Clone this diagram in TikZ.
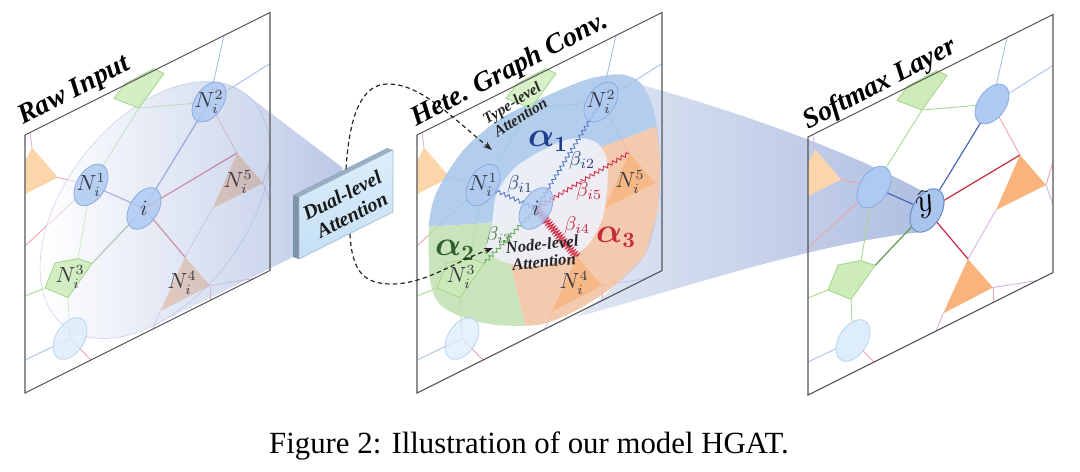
\documentclass[tikz,border=0pt]{standalone}
\usepackage{fontspec}
\setmainfont{Liberation Serif}
\usetikzlibrary{decorations.pathmorphing,arrows.meta}
\definecolor{frameC}{HTML}{555555}
\definecolor{eBlC}{HTML}{A9BFE9}
\definecolor{eGrC}{HTML}{A6D98E}
\definecolor{ePkC}{HTML}{F0A3AB}
\definecolor{ePuC}{HTML}{D4B6E6}
\definecolor{eBdC}{HTML}{4A66B8}
\definecolor{eRdC}{HTML}{C8283C}
\definecolor{eGdC}{HTML}{5C9A4A}
\definecolor{nBlC}{HTML}{AFCAF1}
\definecolor{nBlD}{HTML}{8AAAE4}
\definecolor{nLBC}{HTML}{DEEDFB}
\definecolor{nLBD}{HTML}{B7D3F2}
\definecolor{triC}{HTML}{F8B47C}
\definecolor{triLC}{HTML}{FCD5AB}
\definecolor{pentC}{HTML}{CDECB9}
\definecolor{pentD}{HTML}{A3D58A}
\definecolor{secB}{HTML}{A6C6EA}
\definecolor{secO}{HTML}{F2C1A1}
\definecolor{secG}{HTML}{C0DFB0}
\definecolor{innerC}{HTML}{EFF1F9}
\definecolor{coneA}{HTML}{8FA5D6}
\definecolor{coneL}{HTML}{D3DDF0}
\definecolor{coneR}{HTML}{7F97CE}
\definecolor{boxF1}{HTML}{DCEEFB}
\definecolor{boxF2}{HTML}{C4DFF4}
\definecolor{boxTop}{HTML}{98AEC4}
\definecolor{boxSide}{HTML}{7E93A8}
\definecolor{lblC}{HTML}{3A3A48}
\definecolor{aBlue}{HTML}{1F3D8C}
\definecolor{aGreen}{HTML}{2F5F2A}
\definecolor{aRed}{HTML}{C62A3A}
\definecolor{bBlue}{HTML}{2C3C7C}
\definecolor{bRed}{HTML}{C0283A}
\definecolor{bGreen}{HTML}{3C7A38}
\definecolor{sBlue}{HTML}{5A78C8}
\definecolor{sRed}{HTML}{D03048}
\definecolor{sGreen}{HTML}{6AAA58}
\definecolor{yFill}{HTML}{A9C5EE}
\definecolor{yDraw}{HTML}{6F8FCB}

\tikzset{
  eBl/.style={draw=eBlC, line width=0.45pt},
  eGr/.style={draw=eGrC, line width=0.45pt},
  ePk/.style={draw=ePkC, line width=0.45pt},
  ePu/.style={draw=ePuC, line width=0.45pt},
  eBd/.style={draw=eBdC, line width=0.6pt},
  eRd/.style={draw=eRdC, line width=0.6pt},
  eGd/.style={draw=eGdC, line width=0.6pt},
  snk/.style={decorate, decoration={snake, amplitude=0.9pt, segment length=2.6pt}, line width=0.45pt},
  coil/.style={decorate, decoration={snake, amplitude=1.8pt, segment length=1.4pt}, line width=0.45pt},
  frame/.style={draw=frameC, line width=0.55pt},
  ttl/.style={font=\fontsize{13.9}{15}\selectfont\bfseries\itshape, rotate=27.5, anchor=base west, inner sep=0pt},
  nlbl/.style={font=\fontsize{10.5}{10.5}\selectfont, text=lblC, inner sep=0pt},
  blbl/.style={font=\fontsize{9.8}{9.8}\selectfont, inner sep=0pt},
  albl/.style={font=\fontsize{16}{16}\selectfont\boldmath, inner sep=0pt},
  dsh/.style={draw=black!85, line width=0.6pt, dash pattern=on 2.2pt off 1.6pt, -{Stealth[length=4.5pt,width=3.2pt]}},
  ellnode/.style={line width=0.4pt}
}

\newcommand{\gpts}[1]{%
  \coordinate (#1-N1) at (66,83);
  \coordinate (#1-N2) at (184,59);
  \coordinate (#1-i) at (119,133);
  \coordinate (#1-LB) at (45,226);
  \coordinate (#1-Pa) at (89,8);
  \coordinate (#1-Pb) at (114,30);
  \coordinate (#1-Pc) at (139,8);
  \coordinate (#1-Pd) at (129,-2);
  \coordinate (#1-Pe) at (100,-1);
  \coordinate (#1-Qa) at (20,163);
  \coordinate (#1-Qb) at (43,184);
  \coordinate (#1-Qc) at (67,162);
  \coordinate (#1-Qd) at (53,150);
  \coordinate (#1-Qe) at (30,143);
  \coordinate (#1-Fa) at (212,124);
  \coordinate (#1-Fb) at (188,167);
  \coordinate (#1-Fc) at (238,167);
  \coordinate (#1-Ga) at (160,202);
  \coordinate (#1-Gb) at (135,244);
  \coordinate (#1-Gc) at (185,243);
  \coordinate (#1-La) at (7,16);
  \coordinate (#1-Lb) at (-22,59);
  \coordinate (#1-Lc) at (33,59);
  \coordinate (#1-b1) at (199,0);
  \coordinate (#1-b2) at (245,51);
  \coordinate (#1-b3) at (0,111);
  \coordinate (#1-b4) at (5,0);
  \coordinate (#1-b5) at (0,161);
  \coordinate (#1-b6) at (0,225);
  \coordinate (#1-b7) at (66,258);
  \coordinate (#1-b8) at (245,147);
  \coordinate (#1-b9) at (245,190);
  \coordinate (#1-b10) at (229,258);
  \coordinate (#1-b11) at (185,258);
  \coordinate (#1-b12) at (128,258);
}
\newcommand{\gedges}[1]{%
  \fill[triLC] (#1-La) -- (#1-Lb) -- (#1-Lc) -- cycle;
  \draw[eBl] (#1-b1) -- (#1-N2) -- (#1-b2);
  \draw[eBl] (#1-LB) -- (#1-b6);
  \draw[eGr] (#1-N2) -- (#1-Pb) -- (#1-N1) -- (#1-Qd);
  \draw[eGr] (#1-Qa) -- (#1-b5);
  \draw[eGr] (#1-Qb) -- (#1-LB);
  \draw[ePk] (#1-N2) -- (#1-Fa);
  \draw[ePk] (#1-Lc) -- (#1-N1) -- (#1-b3);
  \draw[ePk] (#1-LB) -- (#1-b7);
  \draw[ePk] (#1-Fc) -- (#1-b8);
  \draw[ePk] (#1-Gc) -- (#1-b11);
  \draw[ePu] (#1-La) -- (#1-b4);
  \draw[ePu] (#1-Fb) -- (#1-Ga);
  \draw[ePu] (#1-Fc) -- (#1-b9);
  \draw[ePu] (#1-Gc) -- (#1-b10);
  \draw[ePu] (#1-Gb) -- (#1-b12);
}
\newcommand{\giedges}[1]{%
  \draw[eBd] (#1-i) -- (#1-N1);
  \draw[eBd] (#1-i) -- (#1-N2);
  \draw[eRd] (#1-i) -- (#1-Fa);
  \draw[eRd] (#1-i) -- (#1-Ga);
  \draw[eGd] (#1-i) -- (#1-Qc);
}
\newcommand{\gells}[2]{%
  \begin{scope}[#2]
  \filldraw[ellnode, fill=nBlC, draw=nBlD] (#1-N1) ellipse [x radius=17, y radius=19];
  \filldraw[ellnode, fill=nBlC, draw=nBlD] (#1-N2) ellipse [x radius=17, y radius=18];
  \filldraw[ellnode, fill=nBlC, draw=nBlD] (#1-i) ellipse [x radius=17, y radius=19];
  \filldraw[ellnode, fill=nLBC, draw=nLBD] (#1-LB) ellipse [x radius=17, y radius=19];
  \filldraw[ellnode, fill=pentC, draw=pentD] (#1-Pa) -- (#1-Pb) -- (#1-Pc) -- (#1-Pd) -- (#1-Pe) -- cycle;
  \filldraw[ellnode, fill=pentC, draw=pentD] (#1-Qa) -- (#1-Qb) -- (#1-Qc) -- (#1-Qd) -- (#1-Qe) -- cycle;
  \end{scope}}
\newcommand{\gtris}[2]{%
  \begin{scope}[#2]
  \fill[triC] (#1-Fa) -- (#1-Fb) -- (#1-Fc) -- cycle;
  \fill[triC] (#1-Ga) -- (#1-Gb) -- (#1-Gc) -- cycle;
  \end{scope}}

\begin{document}
\begin{tikzpicture}[x=0.5pt, y=-0.5pt]
\useasboundingbox (0,0) rectangle (1080,471);

% ================= Panel 1: Raw Input =================
\begin{scope}[shift={(25,135)}, yslant=0.5]
  \gpts{a}
  \begin{scope}
    \clip (0,0) rectangle (245,258);
    \gedges{a}
    \giedges{a}
  \end{scope}
  \gtris{a}{}
  \shade[left color=white, right color=coneA, fill opacity=0.6]
    plot[domain=90:322, samples=60] ({130+115*cos(\x)},{140+115*sin(\x)})
    -- (318,192) -- (268,256) -- cycle;
  \draw[draw=coneA, line width=0.3pt, opacity=0.45]
    plot[domain=0:360, samples=90] ({130+115*cos(\x)},{140+115*sin(\x)}) -- cycle;
  \gells{a}{fill opacity=0.85}
  \draw[frame] (0,0) rectangle (245,258);
\end{scope}
\node[nlbl] (a-lN1) at (a-N1) {$N_i^1$};
\node[nlbl] (a-lN2) at (a-N2) {$N_i^2$};
\node[nlbl] (a-li) at (a-i) {$i$};
\node[nlbl] (a-lN3) at (70,277) {$N_i^3$};
\node[nlbl] (a-lN4) at (182,283) {$N_i^4$};
\node[nlbl] (a-lN5) at (238,182) {$N_i^5$};

% ================= Dual-level attention box =================
\coordinate (bxTL) at (299,197);
\coordinate (bxTR) at (393,150);
\coordinate (bxBR) at (393,212);
\coordinate (bxBL) at (299,259);
\coordinate (bbTL) at (293,195);
\coordinate (bbTR) at (387,148);
\coordinate (bbBL) at (293,257);
\fill[boxTop] (bbTL) -- (bbTR) -- (bxTR) -- (bxTL) -- cycle;
\fill[boxSide] (bbTL) -- (bxTL) -- (bxBL) -- (bbBL) -- cycle;
\shade[top color=boxF1, bottom color=boxF2] (bxTL) -- (bxTR) -- (bxBR) -- (bxBL) -- cycle;
\draw[draw=boxSide!70, line width=0.3pt] (bxTL) -- (bxTR) -- (bxBR) -- (bxBL) -- cycle;
\node[font=\fontsize{10}{11}\selectfont\bfseries\itshape, align=center, rotate=27, text=black!90] (dual) at (347,205) {Dual-level\\Attention};

\coordinate (dTop) at (346,169);
\coordinate (dBot) at (350,234);
\coordinate (tgt1) at (492,150);
\coordinate (tgt2) at (493,248);

% ================= Panel 2: Hete. Graph Conv. =================
\begin{scope}[shift={(417,135)}, yslant=0.5]
  \gpts{b}
  \begin{scope}
    \clip (0,0) rectangle (245,258);
    \gedges{b}
  \end{scope}
  \begin{scope}
    \clip plot[smooth cycle] coordinates {(12,96) (18,70) (33,50) (52,35) (86,25) (136,26) (173,30) (205,42) (225,62) (238,99) (243,146) (241,195) (228,234) (195,250) (158,255) (123,251) (80,230) (48,207) (23,181) (13,151)};
    \fill[secB, fill opacity=0.85] (125,135) -- (69.7,123) -- (-60,66) -- (-60,-60) -- (320,-60) -- (320,122) -- (183,104) -- cycle;
    \fill[secO, fill opacity=0.85] (125,135) -- (183,104) -- (320,122) -- (320,330) -- (127,330) -- (93,174.5) -- cycle;
    \fill[secG, fill opacity=0.85] (125,135) -- (93,174.5) -- (127,330) -- (-60,330) -- (-60,66) -- (69.7,123) -- cycle;
  \end{scope}
  \fill[innerC, fill opacity=0.92] plot[smooth cycle] coordinates {(75,126) (80,98) (100,81) (136,78) (160,83) (180,98) (190,120) (190,150) (185,177) (170,196) (146,198) (113,188) (83,167) (70,147)};
\end{scope}
\draw[snk, draw=sBlue] (b-i) -- (b-N1);
\draw[snk, draw=sBlue] (b-i) -- (b-N2);
\draw[snk, draw=sRed] (b-i) -- (b-Fa);
\draw[coil, draw=sRed] (b-i) -- (b-Ga);
\draw[snk, draw=sGreen] (b-i) -- (b-Qc);
\begin{scope}[shift={(417,135)}, yslant=0.5]
  \gtris{b}{fill opacity=0.8}
  \gells{b}{fill opacity=0.8}
\end{scope}

% ================= Cone from panel 2 to panel 3 =================
\shade[left color=coneL, right color=coneR, fill opacity=0.62]
  (612,77) .. controls (720,105) and (850,150) .. (929,195)
  -- (922,232) .. controls (800,245) and (650,300) .. (545,325)
  -- (577,317) -- (605,295) -- (645,255) -- (658,210) -- (660,160) -- (655,115) -- (637,82) -- cycle;

% ================= Panel 3: Softmax Layer =================
\begin{scope}[shift={(808,137)}, yslant=0.5]
  \gpts{c}
  \begin{scope}
    \clip (0,0) rectangle (245,258);
    \gedges{c}
    \giedges{c}
  \end{scope}
  \gtris{c}{}
  \gells{c}{}
  \filldraw[fill=yFill, draw=yDraw, line width=0.5pt] (c-i) ellipse [x radius=17, y radius=20];
  \draw[frame] (0,0) rectangle (245,258);
\end{scope}
\begin{scope}[shift={(417,135)}, yslant=0.5]
  \draw[frame] (0,0) rectangle (245,258);
\end{scope}
\node[font=\fontsize{19}{19}\selectfont, rotate=18, inner sep=0pt] (yhat) at ([xshift=-1, yshift=3]c-i) {$\widehat{y}$};

% panel 2 labels
\node[nlbl] (b-lN1) at (b-N1) {$N_i^1$};
\node[nlbl] (b-lN2) at (b-N2) {$N_i^2$};
\node[nlbl] (b-li) at (b-i) {$i$};
\node[nlbl] (b-lN3) at (461,277) {$N_i^3$};
\node[nlbl] (b-lN4) at (574,283) {$N_i^4$};
\node[nlbl] (b-lN5) at (630,182) {$N_i^5$};
\node[albl, text=aBlue] (al1) at (548,141) {$\alpha_1$};
\node[albl, text=aGreen] (al2) at (455,250) {$\alpha_2$};
\node[albl, text=aRed] (al3) at (616,237) {$\alpha_3$};
\node[blbl, text=bBlue] (be1) at (520,184) {$\beta_{i1}$};
\node[blbl, text=bBlue] (be2) at (582,160) {$\beta_{i2}$};
\node[blbl, text=bRed] (be5) at (589,191) {$\beta_{i5}$};
\node[blbl, text=bRed] (be4) at (577,225) {$\beta_{i4}$};
\node[blbl, text=bGreen] (be3) at (499,235) {$\beta_{i3}$};
\node[font=\fontsize{7.8}{8.2}\selectfont\bfseries\itshape, align=center, rotate=32, text=black!85, inner sep=0pt] (typeAtt) at (516,110) {Type-level\\Attention};
\node[font=\fontsize{8.3}{8.8}\selectfont\bfseries\itshape, align=center, rotate=6, text=black!85, inner sep=0pt] (nodeAtt) at (543,253) {Node-level\\Attention};

% dashed attention arrows
\draw[dsh] (dTop) .. controls (350,105) and (366,84) .. (388,84) .. controls (420,84) and (448,114) .. (tgt1);
\draw[dsh] (dBot) .. controls (352,272) and (364,284) .. (392,284) .. controls (425,284) and (455,262) .. (tgt2);

% titles
\node[ttl] (tRaw) at (23,125) {Raw Input};
\node[ttl] (tHete) at (416,127) {Hete. Graph Conv.};
\node[ttl] (tSoft) at (808,130) {Softmax Layer};

% caption
\node[font=\fontsize{15.4}{18}\selectfont, anchor=base, inner sep=0pt] (caption) at (529,453) {Figure 2: Illustration of our model HGAT.};
\end{tikzpicture}
\end{document}
